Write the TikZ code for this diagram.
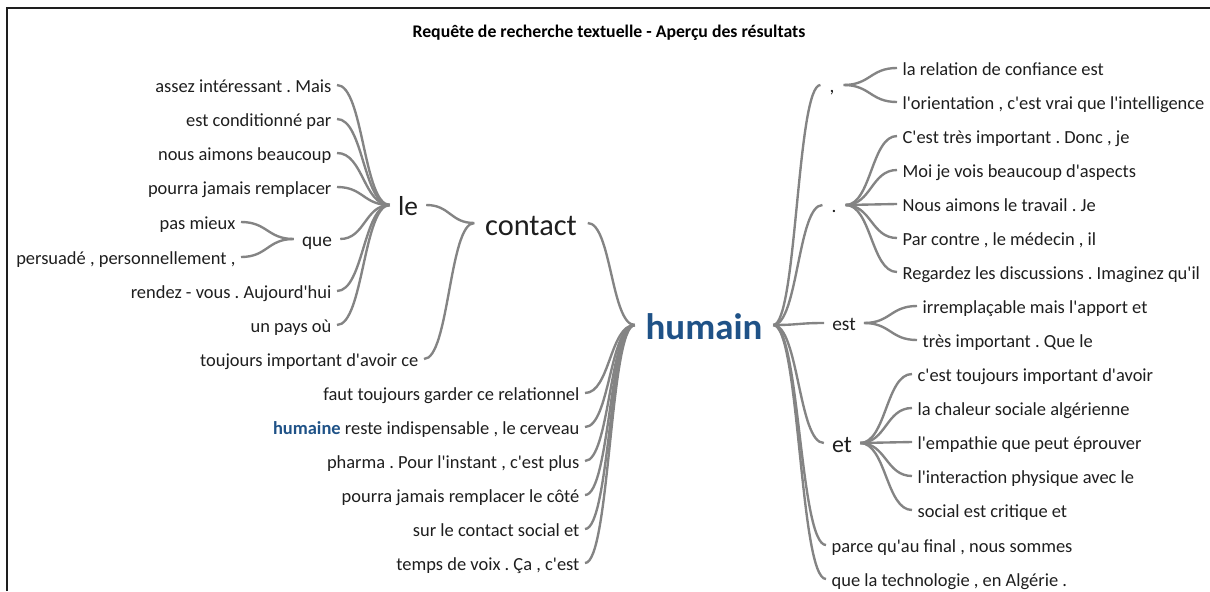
\documentclass[tikz,border=0pt]{standalone}
\usepackage{fontspec}
\setmainfont{Carlito}[Ligatures=TeXOff]
\frenchspacing
\usetikzlibrary{calc,positioning}

\definecolor{ink}{RGB}{30,30,30}
\definecolor{twig}{RGB}{132,132,132}
\definecolor{hub}{RGB}{31,82,135}

\tikzset{
    wordlink/.style={draw=twig, line width=1.35pt,
        to path={.. controls ($(\tikztostart)!.5!(\tikztostart -| \tikztotarget)$)
                 and ($(\tikztotarget)!.5!(\tikztotarget -| \tikztostart)$) .. (\tikztotarget)}},
    word/.style={text=ink, inner ysep=0pt, text depth=0pt},
    leaf/.style={word, inner xsep=3pt, font=\fontsize{10.5}{12}\selectfont, text height=8.4pt},
    joint/.style={word, inner xsep=4.5pt, font=\fontsize{11}{13}\selectfont, text height=8.8pt},
    title/.style={text=black, font=\bfseries\fontsize{10.1}{12}\selectfont}
}

\begin{document}
\begin{tikzpicture}[x=0.2mm, y=-0.2mm]
    \useasboundingbox (0,0) rectangle (1210,591);
    \draw[ink, line width=1.1pt] (7,591) -- (7,8) -- (1210,8);

    \node[title] (title) at (609,33) {Requête de recherche textuelle - Aperçu des résultats};

    % centre du mot
    \node[word, text=hub, inner xsep=6pt, font=\bfseries\fontsize{21}{24}\selectfont, text height=16.8pt] (humain) at (704,325) {humain};

    % avant "humain"
    \node[word, inner xsep=6pt, font=\fontsize{17.3}{20}\selectfont, text height=13.8pt] (contact) at (531,223) {contact};
    \node[word, inner xsep=4.5pt, font=\fontsize{15.6}{18}\selectfont, text height=12.5pt] (le) at (408,205) {le};
    \node[joint] (que) at (317,239) {que};

    \node[leaf, anchor=east] (assez) at (337,85) {assez intéressant . Mais};
    \node[leaf, anchor=east] (condit) at (337,119) {est conditionné par};
    \node[leaf, anchor=east] (aimons) at (337,153) {nous aimons beaucoup};
    \node[leaf, anchor=east] (remplacer) at (337,187) {pourra jamais remplacer};
    \node[leaf, anchor=east] (mieux) at (241,222) {pas mieux};
    \node[leaf, anchor=east] (persuade) at (241,257) {persuadé , personnellement ,};
    \node[leaf, anchor=east] (rendez) at (337,291) {rendez - vous . Aujourd'hui};
    \node[leaf, anchor=east] (pays) at (337,325) {un pays où};
    \node[leaf, anchor=east] (toujours) at (424,359) {toujours important d'avoir ce};

    \node[leaf, anchor=east] (faut) at (585,393) {faut toujours garder ce relationnel};
    \node[leaf, anchor=east] (humaine) at (585,427) {\textcolor{hub}{\bfseries humaine} reste indispensable , le cerveau};
    \node[leaf, anchor=east] (pharma) at (585,461) {pharma . Pour l'instant , c'est plus};
    \node[leaf, anchor=east] (cote) at (585,495) {pourra jamais remplacer le côté};
    \node[leaf, anchor=east] (social) at (585,529) {sur le contact social et};
    \node[leaf, anchor=east] (voix) at (585,563) {temps de voix . Ça , c'est};

    % apres "humain"
    \node[joint, inner xsep=5pt] (virgule) at (832,85) {,};
    \node[joint, inner xsep=5pt] (point) at (834,205) {.};
    \node[joint] (est) at (844,323) {est};
    \node[word, inner xsep=4.5pt, font=\fontsize{13.6}{16}\selectfont, text height=10.9pt] (et) at (842,443) {et};
    \node[leaf, anchor=west] (parce) at (826,545) {parce qu'au final , nous sommes};
    \node[leaf, anchor=west] (techno) at (826,579) {que la technologie , en Algérie .};

    \node[leaf, anchor=west] (confiance) at (897,68) {la relation de confiance est};
    \node[leaf, anchor=west] (orient) at (897,102) {l'orientation , c'est vrai que l'intelligence};

    \node[leaf, anchor=west] (donc) at (897,136) {C'est très important . Donc , je};
    \node[leaf, anchor=west] (aspects) at (897,170) {Moi je vois beaucoup d'aspects};
    \node[leaf, anchor=west] (travail) at (897,204) {Nous aimons le travail . Je};
    \node[leaf, anchor=west] (medecin) at (897,238) {Par contre , le médecin , il};
    \node[leaf, anchor=west] (regardez) at (897,272) {Regardez les discussions . Imaginez qu'il};

    \node[leaf, anchor=west] (apport) at (917,306) {irremplaçable mais l'apport et};
    \node[leaf, anchor=west] (quele) at (917,340) {très important . Que le};

    \node[leaf, anchor=west] (avoir) at (912,374) {c'est toujours important d'avoir};
    \node[leaf, anchor=west] (chaleur) at (912,408) {la chaleur sociale algérienne};
    \node[leaf, anchor=west] (empathie) at (912,442) {l'empathie que peut éprouver};
    \node[leaf, anchor=west] (interaction) at (912,476) {l'interaction physique avec le};
    \node[leaf, anchor=west] (critique) at (912,510) {social est critique et};

    % branches de gauche
    \draw[wordlink] (assez.east) to (le.west);
    \draw[wordlink] (condit.east) to (le.west);
    \draw[wordlink] (aimons.east) to (le.west);
    \draw[wordlink] (remplacer.east) to (le.west);
    \draw[wordlink] (que.east) to (le.west);
    \draw[wordlink] (rendez.east) to (le.west);
    \draw[wordlink] (pays.east) to (le.west);
    \draw[wordlink] (mieux.east) to (que.west);
    \draw[wordlink] (persuade.east) to (que.west);

    \draw[wordlink] (le.east) to (contact.west);
    \draw[wordlink] (toujours.east) to (contact.west);

    \draw[wordlink] (contact.east) to (humain.west);
    \draw[wordlink] (faut.east) to (humain.west);
    \draw[wordlink] (humaine.east) to (humain.west);
    \draw[wordlink] (pharma.east) to (humain.west);
    \draw[wordlink] (cote.east) to (humain.west);
    \draw[wordlink] (social.east) to (humain.west);
    \draw[wordlink] (voix.east) to (humain.west);

    % branches de droite
    \draw[wordlink] (humain.east) to (virgule.west);
    \draw[wordlink] (humain.east) to (point.west);
    \draw[wordlink] (humain.east) to (est.west);
    \draw[wordlink] (humain.east) to (et.west);
    \draw[wordlink] (humain.east) to (parce.west);
    \draw[wordlink] (humain.east) to (techno.west);

    \draw[wordlink] (virgule.east) to (confiance.west);
    \draw[wordlink] (virgule.east) to (orient.west);

    \draw[wordlink] (point.east) to (donc.west);
    \draw[wordlink] (point.east) to (aspects.west);
    \draw[wordlink] (point.east) to (travail.west);
    \draw[wordlink] (point.east) to (medecin.west);
    \draw[wordlink] (point.east) to (regardez.west);

    \draw[wordlink] (est.east) to (apport.west);
    \draw[wordlink] (est.east) to (quele.west);

    \draw[wordlink] (et.east) to (avoir.west);
    \draw[wordlink] (et.east) to (chaleur.west);
    \draw[wordlink] (et.east) to (empathie.west);
    \draw[wordlink] (et.east) to (interaction.west);
    \draw[wordlink] (et.east) to (critique.west);
\end{tikzpicture}
\end{document}
